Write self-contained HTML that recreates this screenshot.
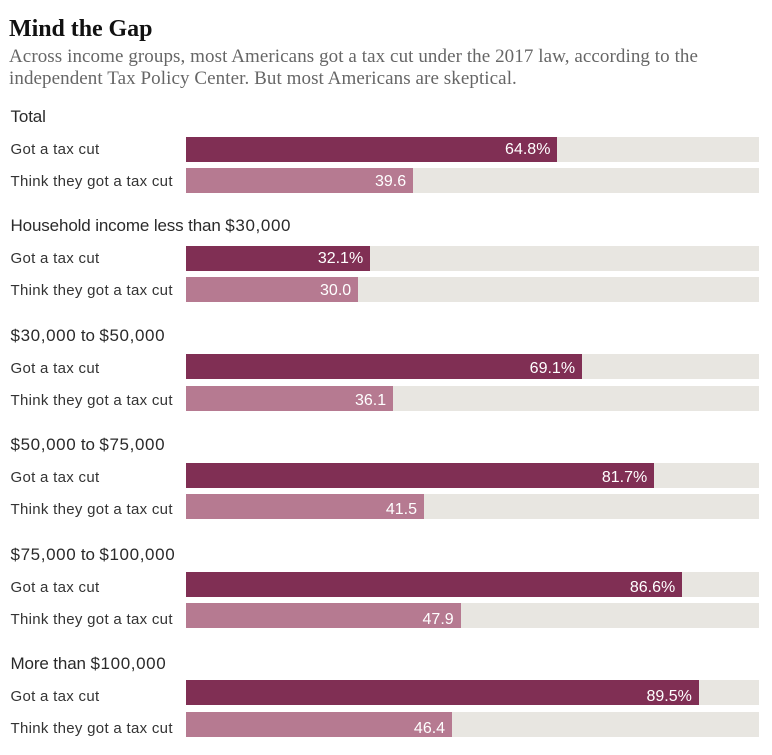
<!DOCTYPE html>
<html>
<head>
<meta charset="utf-8">
<style>
html,body{margin:0;padding:0;background:#fff;}
#chart{position:relative;width:772px;height:755px;overflow:hidden;background:#fff;}
#chart div{position:absolute;white-space:nowrap;}
.title{left:9px;top:14px;font:bold 24px/30px "Liberation Serif",serif;color:#111;letter-spacing:-.05px;}
.sub{left:9px;font:19px/24px "Liberation Serif",serif;color:#666;letter-spacing:.08px;}
.group{left:10.5px;font:17px/22px "Liberation Sans",sans-serif;color:#2a2a2a;letter-spacing:-.13px;}
.group span{letter-spacing:.62px;}
.label{left:10.5px;font:15px/20px "Liberation Sans",sans-serif;color:#333;letter-spacing:.3px;}
.val{font:16px/20px "Liberation Sans",sans-serif;color:#fff;text-align:right;}
</style>
</head>
<body>
<div id="chart">
<div class="title">Mind the Gap</div>
<div class="sub" style="top:45px">Across income groups, most Americans got a tax cut under the 2017 law, according to the</div>
<div class="sub" style="top:67px">independent Tax Policy Center. But most Americans are skeptical.</div>
</div>
<script>
const groups = ["Total", "Household income less than $30,000", "$30,000 to $50,000", "$50,000 to $75,000", "$75,000 to $100,000", "More than $100,000"];
const gotCut = [64.8, 32.1, 69.1, 81.7, 86.6, 89.5];
const thinkCut = [39.6, 30.0, 36.1, 41.5, 47.9, 46.4];
const rowLabels = ["Got a tax cut", "Think they got a tax cut"];

const chart = document.getElementById('chart');
const barLeft = 186.4, barWidth = 572.6, barHeight = 25;
function xScale(v) { return v / 100 * barWidth; }
function barTop(i, r) { return 137 + i * 108.67 + r * 31.3; }
function textTop(i, r) { return 140 + i * 109.4 + r * 32; }
function headingTop(i) { return 106 + i * 109.4; }

function addBox(x, y, w, h, color) {
  const el = document.createElement('div');
  el.style.cssText = 'left:' + x + 'px;top:' + y + 'px;width:' + w + 'px;height:' + h + 'px;background:' + color;
  chart.appendChild(el);
  return el;
}
function addText(cls, text, y) {
  const el = document.createElement('div');
  el.className = cls;
  el.textContent = text;
  el.style.top = y + 'px';
  chart.appendChild(el);
  return el;
}

groups.forEach(function (g, i) {
  const heading = addText('group', g, headingTop(i));
  heading.innerHTML = g.replace(/\$[\d,]+/g, '<span>$&</span>');
  
  

  [gotCut[i], thinkCut[i]].forEach(function (v, r) {
    const y = barTop(i, r);
    const ty = textTop(i, r);
    const label = addText('label', rowLabels[r], ty);
    
    

    const track = addBox(barLeft, y, barWidth, barHeight, '#e8e6e1');
    
    

    const w = xScale(v);
    const bar = addBox(barLeft, y, w, barHeight, r === 0 ? '#802f54' : '#b67a91');
    
    

    const val = addText('val', r === 0 ? v.toFixed(1) + '%' : v.toFixed(1), ty);
    val.style.left = barLeft + 'px';
    val.style.width = (w - 7) + 'px';
    
    
  });
});
</script>
</body>
</html>
